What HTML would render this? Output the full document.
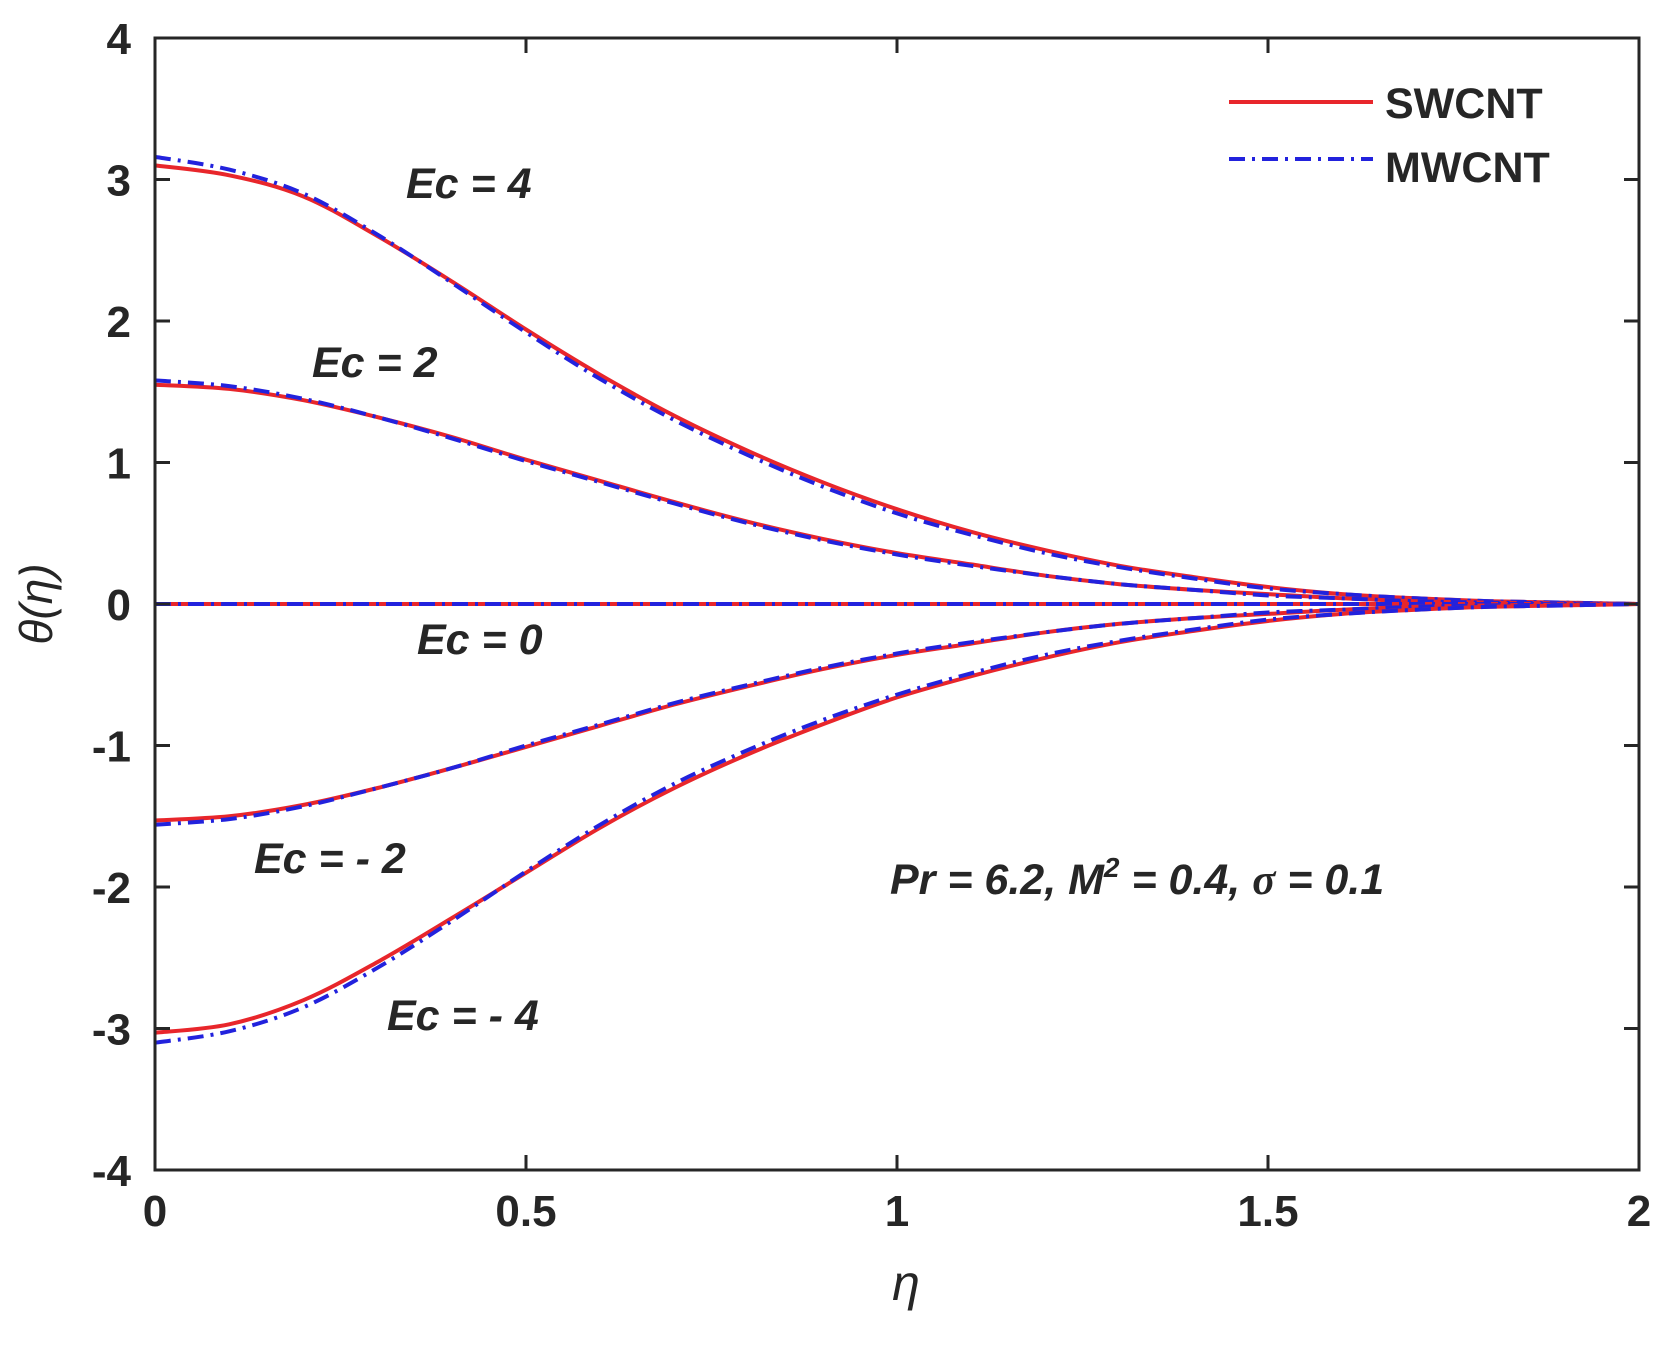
<!DOCTYPE html>
<html><head><meta charset="utf-8"><style>
html,body{margin:0;padding:0;background:#fff;}
svg{display:block;}
text{font-family:"Liberation Sans",sans-serif;fill:#262626;}
</style></head><body>
<svg id="chart" width="1662" height="1350" xmlns="http://www.w3.org/2000/svg">
<rect width="1662" height="1350" fill="#fff"/>
<g id="marks"></g>
<rect x="155" y="38" width="1484" height="1132" fill="none" stroke="#262626" stroke-width="3"/>
<g id="ticks"></g>
<text transform="translate(52,604) rotate(-90)" text-anchor="middle" font-family="Liberation Serif,serif" font-style="italic" font-size="46">θ(η)</text>
<text x="906" y="1300" text-anchor="middle" font-family="Liberation Serif,serif" font-style="italic" font-size="50">η</text>
<g>
<line x1="1229" y1="102" x2="1373" y2="102" stroke="#e8262b" stroke-width="4"/>
<text x="1385" y="118" font-size="43" font-weight="bold">SWCNT</text>
<line x1="1229" y1="159" x2="1373" y2="159" stroke="#2222dd" stroke-width="4" stroke-dasharray="16,7,3,7"/>
<text x="1385" y="182" font-size="43" font-weight="bold">MWCNT</text>
</g>
<g font-size="43" font-weight="bold" font-style="italic">
<text x="406" y="198">Ec = 4</text>
<text x="312" y="377">Ec = 2</text>
<text x="417" y="654">Ec = 0</text>
<text x="254" y="873">Ec = - 2</text>
<text x="387" y="1030">Ec = - 4</text>
<text x="890" y="894">Pr = 6.2, M<tspan dy="-17" font-size="28">2</tspan><tspan dy="17"> = 0.4, </tspan><tspan font-family="Liberation Serif,serif">σ</tspan> = 0.1</text>
</g>
</svg>
<script>
const etaValues=[0,0.1,0.2,0.3,0.4,0.5,0.6,0.7,0.8,0.9,1.0,1.1,1.2,1.3,1.4,1.5,1.6,1.7,1.8,1.9,2.0];
const swEc4=[3.1,3.03,2.88,2.6,2.28,1.94,1.62,1.33,1.08,0.86,0.67,0.51,0.38,0.27,0.19,0.12,0.07,0.04,0.02,0.01,0];
const mwEc4=[3.16,3.07,2.9,2.61,2.27,1.92,1.59,1.3,1.05,0.83,0.64,0.49,0.36,0.26,0.18,0.11,0.07,0.04,0.02,0.01,0];
const swEc2=[1.55,1.52,1.44,1.32,1.18,1.02,0.87,0.72,0.58,0.46,0.36,0.28,0.2,0.14,0.1,0.07,0.04,0.02,0.01,0.005,0];
const mwEc2=[1.58,1.54,1.45,1.32,1.17,1.01,0.86,0.71,0.57,0.45,0.35,0.27,0.2,0.14,0.1,0.06,0.04,0.02,0.01,0.005,0];
const swEc0=[0,0,0,0,0,0,0,0,0,0,0,0,0,0,0,0,0,0,0,0,0];
const mwEc0=[0,0,0,0,0,0,0,0,0,0,0,0,0,0,0,0,0,0,0,0,0];
const swEcN2=[-1.53,-1.5,-1.42,-1.3,-1.16,-1.01,-0.86,-0.71,-0.58,-0.46,-0.36,-0.28,-0.2,-0.14,-0.1,-0.07,-0.04,-0.02,-0.01,-0.005,0];
const mwEcN2=[-1.56,-1.52,-1.43,-1.3,-1.16,-1.0,-0.85,-0.7,-0.57,-0.45,-0.35,-0.27,-0.2,-0.14,-0.1,-0.06,-0.04,-0.02,-0.01,-0.005,0];
const swEcN4=[-3.03,-2.97,-2.8,-2.53,-2.22,-1.9,-1.58,-1.3,-1.06,-0.85,-0.66,-0.51,-0.38,-0.27,-0.19,-0.12,-0.07,-0.04,-0.02,-0.01,0];
const mwEcN4=[-3.1,-3.02,-2.85,-2.57,-2.24,-1.89,-1.56,-1.27,-1.03,-0.82,-0.64,-0.49,-0.36,-0.26,-0.18,-0.11,-0.07,-0.04,-0.02,-0.01,0];
const xTicks=[0,0.5,1,1.5,2];
const xTickLabels=["0","0.5","1","1.5","2"];
const yTicks=[-4,-3,-2,-1,0,1,2,3,4];
const yTickLabels=["-4","-3","-2","-1","0","1","2","3","4"];

const L=155,R=1639,T=38,B=1170;
const xs=v=>L+(v-0)/(2-0)*(R-L);
const ys=v=>B-(v+4)/8*(B-T);
const NS="http://www.w3.org/2000/svg";
const marks=document.getElementById('marks');
const ticks=document.getElementById('ticks');
function curve(vals,name,color,dash){
  const p=document.createElementNS(NS,'path');
  const pts=vals.map((v,i)=>[xs(etaValues[i]),ys(v)]);
  let d='M'+pts[0][0].toFixed(1)+','+pts[0][1].toFixed(1);
  for(let i=0;i<pts.length-1;i++){
    const p0=pts[Math.max(0,i-1)],p1=pts[i],p2=pts[i+1],p3=pts[Math.min(pts.length-1,i+2)];
    const c1=[p1[0]+(p2[0]-p0[0])/6,p1[1]+(p2[1]-p0[1])/6];
    const c2=[p2[0]-(p3[0]-p1[0])/6,p2[1]-(p3[1]-p1[1])/6];
    d+='C'+c1[0].toFixed(1)+','+c1[1].toFixed(1)+' '+c2[0].toFixed(1)+','+c2[1].toFixed(1)+' '+p2[0].toFixed(1)+','+p2[1].toFixed(1);
  }
  p.setAttribute('d',d);
  p.setAttribute('fill','none');
  p.setAttribute('stroke',color);
  p.setAttribute('stroke-width','4');
  p.setAttribute('stroke-linejoin','round');
  if(dash)p.setAttribute('stroke-dasharray',dash);
  
  
  marks.appendChild(p);
}
[[swEc4,mwEc4,'ec-4'],[swEc2,mwEc2,'ec-2'],[swEc0,mwEc0,'ec-0'],[swEcN2,mwEcN2,'ec-neg2'],[swEcN4,mwEcN4,'ec-neg4']].forEach(s=>{
  curve(s[0],'swcnt-curve-'+s[2],'#e8262b',null);
  curve(s[1],'mwcnt-curve-'+s[2],'#2222dd','16,7,3,7');
});
xTicks.forEach((v,i)=>{
  const x=xs(v);
  [[B,B-15],[T,T+15]].forEach(a=>{
    const l=document.createElementNS(NS,'line');
    l.setAttribute('x1',x);l.setAttribute('x2',x);l.setAttribute('y1',a[0]);l.setAttribute('y2',a[1]);
    l.setAttribute('stroke','#262626');l.setAttribute('stroke-width','3');
    
    
    ticks.appendChild(l);
  });
  const t=document.createElementNS(NS,'text');
  t.setAttribute('x',x);t.setAttribute('y',1226);t.setAttribute('text-anchor','middle');
  t.setAttribute('font-size','44');t.setAttribute('font-weight','bold');
  t.textContent=xTickLabels[i];
  
  
  ticks.appendChild(t);
});
yTicks.forEach((v,i)=>{
  const y=ys(v);
  [[L,L+15],[R,R-15]].forEach(a=>{
    const l=document.createElementNS(NS,'line');
    l.setAttribute('x1',a[0]);l.setAttribute('x2',a[1]);l.setAttribute('y1',y);l.setAttribute('y2',y);
    l.setAttribute('stroke','#262626');l.setAttribute('stroke-width','3');
    
    
    ticks.appendChild(l);
  });
  const t=document.createElementNS(NS,'text');
  t.setAttribute('x',131);t.setAttribute('y',y+16);t.setAttribute('text-anchor','end');
  t.setAttribute('font-size','44');t.setAttribute('font-weight','bold');
  t.textContent=yTickLabels[i];
  
  
  ticks.appendChild(t);
});
</script>
</body></html>
